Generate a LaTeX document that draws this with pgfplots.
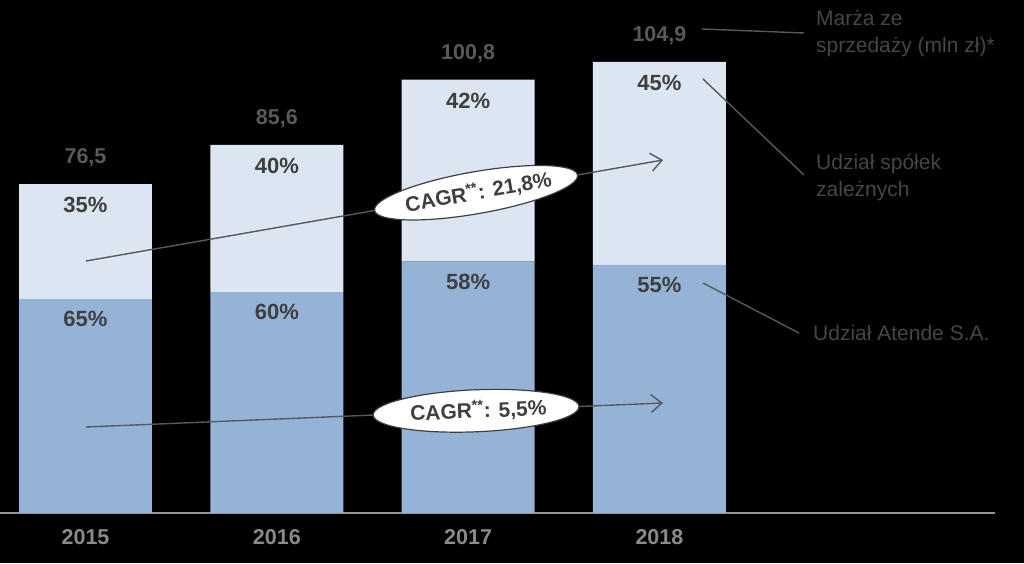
\documentclass[border=0pt]{standalone}
\usepackage{pgfplots}
\pgfplotsset{compat=1.18}
\usepackage{fontspec}
\setmainfont{Liberation Sans}
\usetikzlibrary{shapes.geometric,arrows.meta}

\definecolor{lightbar}{HTML}{DCE6F2}
\definecolor{darkbar}{HTML}{95B3D7}
\definecolor{pctgray}{HTML}{3F3F3F}
\definecolor{totgray}{HTML}{595959}
\definecolor{yeargray}{HTML}{8A8A8A}
\definecolor{notegray}{HTML}{464646}

\tikzset{
  tot/.style={font=\fontsize{21.5}{26}\selectfont\bfseries, text=totgray, yshift=26pt},
  upper/.style={font=\fontsize{22}{26}\selectfont\bfseries, text=pctgray, yshift=-21pt},
  lower/.style={font=\fontsize{22}{26}\selectfont\bfseries, text=pctgray, yshift=-20pt},
  yr/.style={font=\fontsize{21.5}{26}\selectfont\bfseries, text=yeargray},
  cagr/.style={ellipse, draw=pctgray, line width=1.2pt, fill=white,
    minimum width=206pt, minimum height=42pt, inner sep=0pt},
  cagrtxt/.style={font=\fontsize{21}{24}\selectfont\bfseries, text=pctgray, inner sep=0pt},
}

\begin{document}
\begin{tikzpicture}
\fill[black] (0,0) rectangle (1024pt,563pt);
\begin{axis}[
    at={(0,0)}, anchor=south west,
    scale only axis, width=1024pt, height=563pt,
    xmin=-0.447, xmax=4.906, ymin=-11.63, ymax=119.3,
    hide axis, clip=false,
    ybar stacked, bar width=0.695,
  ]
  % Udzial Atende S.A. (mln zl)
  \addplot[fill=darkbar, draw=none] coordinates {(0,49.73) (1,51.36) (2,58.46) (3,57.70)};
  % Udzial spolek zaleznych (mln zl)
  \addplot[fill=lightbar, draw=none] coordinates {(0,26.77) (1,34.24) (2,42.34) (3,47.20)};

  \draw[color=yeargray!90, line width=1.5pt] (axis cs:-0.447,0) -- (axis cs:4.754,0);

  % anchor points for the labels (drawn after the bars)
  \coordinate (t0) at (axis cs:0,76.5);
  \coordinate (t1) at (axis cs:1,85.6);
  \coordinate (t2) at (axis cs:2,100.8);
  \coordinate (t3) at (axis cs:3,104.9);
  \coordinate (s0) at (axis cs:0,49.73);
  \coordinate (s1) at (axis cs:1,51.36);
  \coordinate (s2) at (axis cs:2,58.46);
  \coordinate (s3) at (axis cs:3,57.70);
  \coordinate (y0) at (axis cs:0,-5.58);
  \coordinate (y1) at (axis cs:1,-5.58);
  \coordinate (y2) at (axis cs:2,-5.58);
  \coordinate (y3) at (axis cs:3,-5.58);
\end{axis}

% totals
\node[tot] at (t0) {76,5};
\node[tot] at (t1) {85,6};
\node[tot] at (t2) {100,8};
\node[tot] at (t3) {104,9};
% upper shares
\node[upper] at (t0) {35\%};
\node[upper] at (t1) {40\%};
\node[upper] at (t2) {42\%};
\node[upper] at (t3) {45\%};
% lower shares
\node[lower] at (s0) {65\%};
\node[lower] at (s1) {60\%};
\node[lower] at (s2) {58\%};
\node[lower] at (s3) {55\%};
% years
\node[yr] at (y0) {2015};
\node[yr] at (y1) {2016};
\node[yr] at (y2) {2017};
\node[yr] at (y3) {2018};

% CAGR arrows
\draw[totgray, line width=1.4pt, -{Straight Barb[length=11pt,width=18pt]}]
  (86pt,302pt) -- node[pos=0.676, sloped, cagr] {} node[pos=0.68, sloped, cagrtxt] {CAGR\textsuperscript{**}: 21,8\%} (663pt,403pt);
\draw[totgray, line width=1.4pt, -{Straight Barb[length=11pt,width=18pt]}]
  (86pt,136pt) -- node[pos=0.676, sloped, cagr] {} node[pos=0.68, sloped, cagrtxt] {CAGR\textsuperscript{**}: 5,5\%} (663pt,160pt);

% leaders and notes
\draw[totgray, line width=1.4pt] (702pt,534pt) -- (804pt,530pt);
\draw[totgray, line width=1.4pt] (703pt,484pt) -- (804pt,388pt);
\draw[totgray, line width=1.4pt] (703pt,280pt) -- (799pt,230pt);
\begin{scope}[every node/.style={font=\fontsize{21}{27}\selectfont, text=notegray, inner sep=0pt, anchor=west, align=left}]
  \node at (816pt,529pt) {Marża ze\\sprzedaży (mln zł)*};
  \node at (816pt,386pt) {Udział spółek\\zależnych};
  \node at (813pt,230pt) {Udział Atende S.A.};
\end{scope}

\pgfresetboundingbox
\path (0,0) rectangle (1024pt,563pt);
\end{tikzpicture}
\end{document}
